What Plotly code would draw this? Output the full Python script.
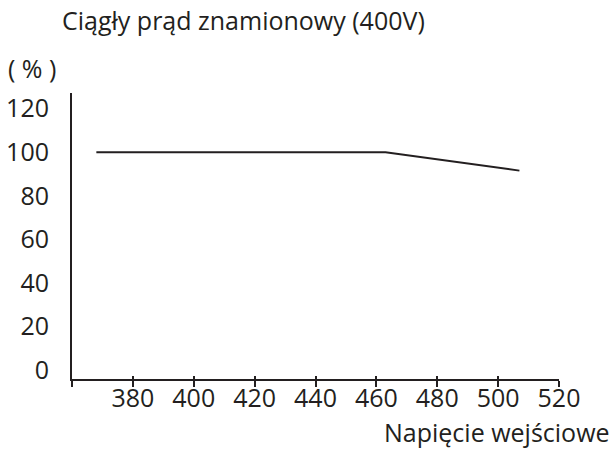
import plotly.graph_objects as go

# Rated continuous current (%) versus input voltage (V)
voltage = [368, 463, 507]
current_pct = [100, 100, 91.6]

x_ticks = [360, 380, 400, 420, 440, 460, 480, 500, 520]
x_tick_text = ["", "380", "400", "420", "440", "460", "480", "500", "520"]
y_ticks = [0, 20, 40, 60, 80, 100, 120]

title_text = "Ciągły prąd znamionowy (400V)"
y_unit_text = "( % )"
x_title_text = "Napięcie wejściowe"

FONT = "Open Sans"
SIZE = 25
INK = "#231f20"
X_RANGE = [360, 520]
Y_RANGE = [-4.1, 127.2]

fig = go.Figure()
fig.add_trace(go.Scatter(
    x=voltage, y=current_pct, mode="lines",
    line=dict(color=INK, width=1.8), hoverinfo="skip", showlegend=False,
))
# companion trace so the overlaid axis (upper half of the tick marks) is rendered
fig.add_trace(go.Scatter(
    x=X_RANGE, y=Y_RANGE, xaxis="x2", mode="lines",
    line=dict(width=0), hoverinfo="skip", showlegend=False,
))

fig.update_layout(
    width=611, height=449,
    margin=dict(l=72, r=52, t=93, b=70, autoexpand=False),
    paper_bgcolor="white", plot_bgcolor="white",
    font=dict(family=FONT, size=SIZE, color=INK),
    xaxis=dict(
        range=X_RANGE, tickvals=x_ticks, ticktext=x_tick_text,
        showline=True, linecolor=INK, linewidth=2, automargin=False,
        ticks="outside", ticklen=6, tickwidth=1.5, tickcolor=INK,
        showgrid=False, zeroline=False, ticklabelstandoff=-10,
        tickfont=dict(family=FONT, size=SIZE, color=INK),
    ),
    xaxis2=dict(
        range=X_RANGE, overlaying="x", anchor="y", side="bottom",
        tickvals=x_ticks, showticklabels=False, automargin=False,
        ticks="inside", ticklen=3, tickwidth=1.5, tickcolor=INK,
        showline=False, showgrid=False, zeroline=False,
    ),
    yaxis=dict(
        range=Y_RANGE, tickvals=y_ticks,
        showline=True, linecolor=INK, linewidth=2, automargin=False,
        ticks="", showgrid=False, zeroline=False,
        ticklabelstandoff=16,
        tickfont=dict(family=FONT, size=SIZE, color=INK),
    ),
    annotations=[
        dict(text=title_text, xref="paper", yref="paper",
             x=-0.024, y=1.255, xanchor="left", yanchor="middle",
             showarrow=False, font=dict(family=FONT, size=SIZE, color=INK)),
        dict(text=y_unit_text, xref="paper", yref="paper",
             x=-0.135, y=1.087, xanchor="left", yanchor="middle",
             showarrow=False, font=dict(family=FONT, size=SIZE, color=INK)),
        dict(text=x_title_text, xref="paper", yref="paper",
             x=1.109, y=-0.186, xanchor="right", yanchor="middle",
             showarrow=False, font=dict(family=FONT, size=SIZE, color=INK)),
    ],
)

fig.write_html("out.html")
